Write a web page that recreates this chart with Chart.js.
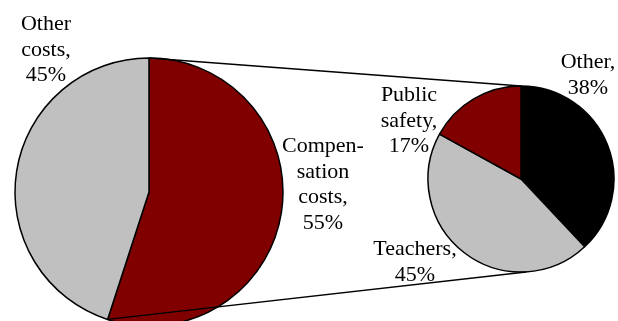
<!DOCTYPE html>
<html>
<head>
<meta charset="utf-8">
<script src="https://cdn.jsdelivr.net/npm/chart.js@4/dist/chart.umd.min.js"></script>
<style>
    html, body { margin: 0; padding: 0; background: #fff; }
    #wrap { position: relative; width: 618px; height: 321px; }
    #wrap canvas { position: absolute; left: 0; top: 0; }
</style>
</head>
<body>
<div id="wrap">
    <canvas id="main_pie" width="618" height="321"></canvas>
    <canvas id="sub_pie" width="618" height="321"></canvas>
</div>
<script>
// main pie: share of spending
const mainLabels = ['Compensation costs', 'Other costs'];
const mainValues = [55, 45];
const mainColors = ['#800000', '#c0c0c0'];
const mainLines = [['Compen-', 'sation', 'costs,'], ['Other', 'costs,']];

// secondary pie: split of compensation costs
const subLabels = ['Other', 'Teachers', 'Public safety'];
const subValues = [38, 45, 17];
const subColors = ['#000000', '#c0c0c0', '#800000'];
const subLines = [['Other,'], ['Teachers,'], ['Public', 'safety,']];

const FONT = '22px "Liberation Serif", "Times New Roman", serif';
const LINE_H = 25.5;

// label anchor (centre x, first baseline) relative to the pie centre
const mainOffsets = [[174, -40], [-103, -162]];
const subOffsets = [[67, -111], [-106, 76], [-112, -78]];

function sliceText(lines, values, offsets) {
    return {
        id: 'sliceText',
        afterDraw: function(chart) {
            let ctx = chart.ctx;
            let arcs = chart.getDatasetMeta(0).data;
            ctx.save();
            ctx.font = FONT;
            ctx.fillStyle = '#000';
            ctx.textAlign = 'center';
            ctx.textBaseline = 'alphabetic';
            for (let i = 0; i < arcs.length; i++) {
                let txt = lines[i].concat([values[i] + '%']);
                let x = arcs[i].x + offsets[i][0];
                let y = arcs[i].y + offsets[i][1];
                for (let j = 0; j < txt.length; j++) {
                    ctx.fillText(txt[j], x, y + j * LINE_H);
                }
            }
            ctx.restore();
        }
    };
}

function pieOptions(padding) {
    return {
        responsive: false,
        animation: false,
        events: [],
        layout: { padding: padding },
        plugins: {
            legend: { display: false },
            tooltip: { enabled: false }
        }
    };
}

window.main_chart = new Chart(document.getElementById('main_pie'), {
    type: 'pie',
    data: {
        labels: mainLabels,
        datasets: [{
            data: mainValues,
            backgroundColor: mainColors,
            borderColor: '#000',
            borderWidth: 1.5,
            radius: 134
        }]
    },
    options: pieOptions({ left: 0, right: 320, top: 63, bottom: 0 }),
    plugins: [sliceText(mainLines, mainValues, mainOffsets)]
});

// lines joining the compensation slice to the secondary pie
const connector = {
    id: 'connector',
    afterDraw: function(chart) {
        let a = window.main_chart.getDatasetMeta(0).data[0];
        let b = chart.getDatasetMeta(0).data[0];
        let ctx = chart.ctx;
        ctx.save();
        ctx.strokeStyle = '#000';
        ctx.lineWidth = 1.3;
        ctx.beginPath();
        ctx.moveTo(a.x + a.outerRadius * Math.cos(a.startAngle), a.y + a.outerRadius * Math.sin(a.startAngle));
        ctx.lineTo(b.x, b.y - b.outerRadius);
        ctx.moveTo(a.x + a.outerRadius * Math.cos(a.endAngle), a.y + a.outerRadius * Math.sin(a.endAngle));
        ctx.lineTo(b.x + 5, b.y + b.outerRadius);
        ctx.stroke();
        ctx.restore();
    }
};

window.sub_chart = new Chart(document.getElementById('sub_pie'), {
    type: 'pie',
    data: {
        labels: subLabels,
        datasets: [{
            data: subValues,
            backgroundColor: subColors,
            borderColor: '#000',
            borderWidth: 1.5,
            radius: 93
        }]
    },
    options: pieOptions({ left: 424, right: 0, top: 37, bottom: 0 }),
    plugins: [connector, sliceText(subLines, subValues, subOffsets)]
});
</script>
</body>
</html>
